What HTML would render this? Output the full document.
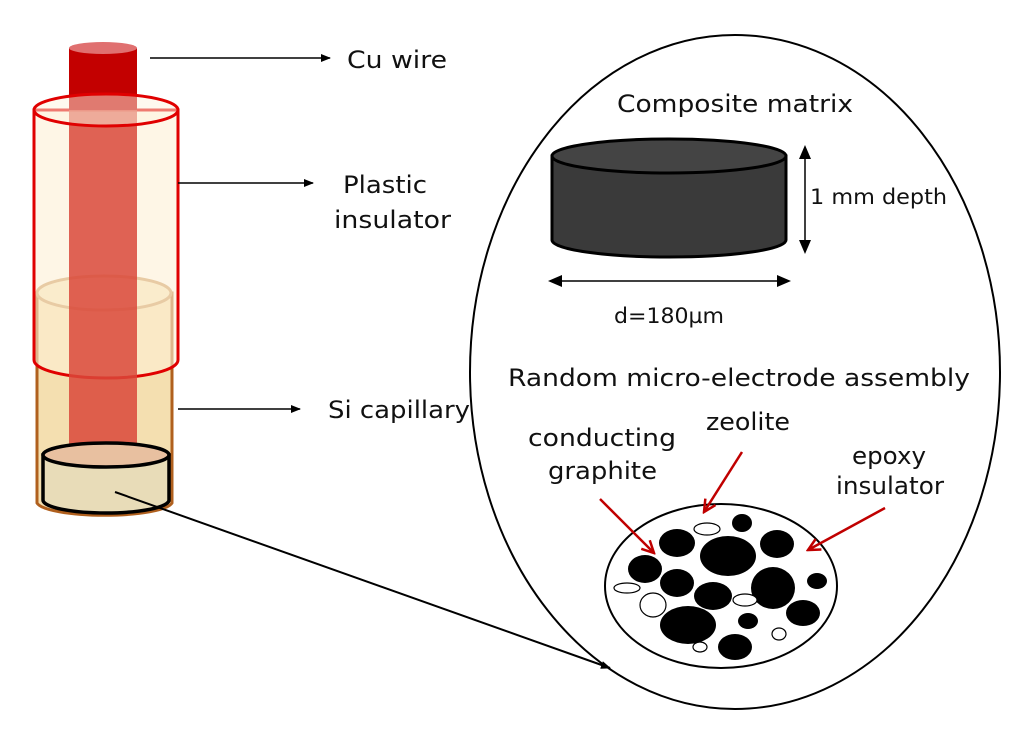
<!DOCTYPE html>
<html><head><meta charset="utf-8"><style>
html,body{margin:0;padding:0;background:#fff;}
svg text{font-family:"DejaVu Sans","Liberation Sans",sans-serif;fill:#111;}
</style></head><body>
<svg width="1024" height="732" viewBox="0 0 1024 732" xmlns="http://www.w3.org/2000/svg">
<defs>
<marker id="ah" markerWidth="10" markerHeight="10" refX="9" refY="5" orient="auto" markerUnits="userSpaceOnUse"><path d="M0,1 L10,5 L0,9 z" fill="#000"/></marker>
<marker id="ahs" markerWidth="14" markerHeight="14" refX="7" refY="7" orient="auto-start-reverse" markerUnits="userSpaceOnUse"><path d="M0,1 L14,7 L0,13 z" fill="#000"/></marker>
<marker id="ra" markerWidth="16" markerHeight="16" refX="14" refY="8" orient="auto" markerUnits="userSpaceOnUse"><path d="M2,2 L14,8 L2,14" fill="none" stroke="#c00000" stroke-width="2.5"/></marker>
</defs>

<path d="M37,293 L37,503 A68,14 0 0 0 172,503 L172,293 Z" fill="#f4dfb0" stroke="#b0601e" stroke-width="3"/>
<ellipse cx="104" cy="293" rx="67" ry="17" fill="#f6e6bf" stroke="#c8955a" stroke-width="3"/>
<path d="M34,110 L34,360 A72,18 0 0 0 178,360 L178,110 Z" fill="#fdf0d6" fill-opacity="0.6" stroke="#e00000" stroke-width="3"/>
<rect x="69" y="48" width="68" height="410" fill="#d9483a" opacity="0.85"/>
<rect x="69" y="48" width="68" height="62" fill="#c30000"/>
<ellipse cx="103" cy="48" rx="34" ry="6" fill="#e07070"/>
<ellipse cx="106" cy="110" rx="72" ry="16" fill="#fdf3e0" fill-opacity="0.5" stroke="#e00000" stroke-width="3"/>
<path d="M43,455 L43,500 A63,13 0 0 0 169,500 L169,455 Z" fill="#e8dcb8" stroke="#000" stroke-width="3.5"/>
<ellipse cx="106" cy="455" rx="63" ry="12" fill="#e8c0a0" stroke="#000" stroke-width="3.5"/>

<line x1="150" y1="58" x2="330" y2="58" stroke="#000" stroke-width="1.5" marker-end="url(#ah)"/>
<line x1="178" y1="183" x2="313" y2="183" stroke="#000" stroke-width="1.5" marker-end="url(#ah)"/>
<line x1="178" y1="409" x2="300" y2="409" stroke="#000" stroke-width="1.5" marker-end="url(#ah)"/>
<line x1="115" y1="492" x2="610" y2="668" stroke="#000" stroke-width="2" marker-end="url(#ah)"/>

<g font-size="24">
<text x="347" y="68" textLength="100" lengthAdjust="spacingAndGlyphs">Cu wire</text>
<text x="343" y="193" textLength="84" lengthAdjust="spacingAndGlyphs">Plastic</text>
<text x="334" y="228" textLength="117" lengthAdjust="spacingAndGlyphs">insulator</text>
<text x="328" y="418" textLength="142" lengthAdjust="spacingAndGlyphs">Si capillary</text>
</g>

<ellipse cx="735" cy="372" rx="265" ry="337" fill="none" stroke="#000" stroke-width="2"/>

<text x="617" y="112" font-size="24" textLength="236" lengthAdjust="spacingAndGlyphs">Composite matrix</text>
<path d="M552,156 L552,240 A117,17 0 0 0 786,240 L786,156 Z" fill="#3a3a3a" stroke="#000" stroke-width="3"/>
<ellipse cx="669" cy="156" rx="117" ry="17" fill="#444" stroke="#000" stroke-width="3"/>
<line x1="805" y1="152" x2="805" y2="247" stroke="#000" stroke-width="1.5" marker-start="url(#ahs)" marker-end="url(#ahs)"/>
<line x1="555" y1="281" x2="784" y2="281" stroke="#000" stroke-width="1.5" marker-start="url(#ahs)" marker-end="url(#ahs)"/>
<text x="810" y="204" font-size="21" textLength="137" lengthAdjust="spacingAndGlyphs">1 mm depth</text>
<text x="614" y="323" font-size="21" textLength="110" lengthAdjust="spacingAndGlyphs">d=180µm</text>

<g font-size="24">
<text x="508" y="386" textLength="462" lengthAdjust="spacingAndGlyphs">Random micro-electrode assembly</text>
<text x="528" y="446" textLength="148" lengthAdjust="spacingAndGlyphs">conducting</text>
<text x="548" y="479" textLength="109" lengthAdjust="spacingAndGlyphs">graphite</text>
<text x="706" y="430" textLength="84" lengthAdjust="spacingAndGlyphs">zeolite</text>
<text x="852" y="464" textLength="74" lengthAdjust="spacingAndGlyphs">epoxy</text>
<text x="836" y="494" textLength="108" lengthAdjust="spacingAndGlyphs">insulator</text>
</g>

<ellipse cx="721" cy="586" rx="116" ry="82" fill="#fff" stroke="#000" stroke-width="2"/>
<g fill="#000">
<ellipse cx="742" cy="523" rx="10" ry="9"/>
<ellipse cx="677" cy="543" rx="18" ry="14"/>
<ellipse cx="728" cy="556" rx="28" ry="20"/>
<ellipse cx="777" cy="544" rx="17" ry="14"/>
<ellipse cx="645" cy="569" rx="17" ry="14"/>
<ellipse cx="677" cy="583" rx="17" ry="14"/>
<ellipse cx="817" cy="581" rx="10" ry="8"/>
<ellipse cx="773" cy="588" rx="22" ry="21"/>
<ellipse cx="713" cy="596" rx="19" ry="14"/>
<ellipse cx="803" cy="613" rx="17" ry="13"/>
<ellipse cx="688" cy="625" rx="28" ry="19"/>
<ellipse cx="748" cy="621" rx="10" ry="8"/>
<ellipse cx="735" cy="647" rx="17" ry="13"/>
</g>
<g fill="#fff" stroke="#000" stroke-width="1.2">
<ellipse cx="707" cy="529" rx="13" ry="6"/>
<ellipse cx="627" cy="588" rx="13" ry="5"/>
<ellipse cx="745" cy="600" rx="12" ry="6"/>
<ellipse cx="653" cy="605" rx="13" ry="12"/>
<ellipse cx="779" cy="634" rx="7" ry="6"/>
<ellipse cx="700" cy="647" rx="7" ry="5"/>
</g>
<g stroke="#c00000" stroke-width="2.5" fill="none">
<line x1="600" y1="499" x2="654" y2="553" marker-end="url(#ra)"/>
<line x1="742" y1="452" x2="704" y2="512" marker-end="url(#ra)"/>
<line x1="885" y1="508" x2="808" y2="550" marker-end="url(#ra)"/>
</g>
</svg>
</body></html>
